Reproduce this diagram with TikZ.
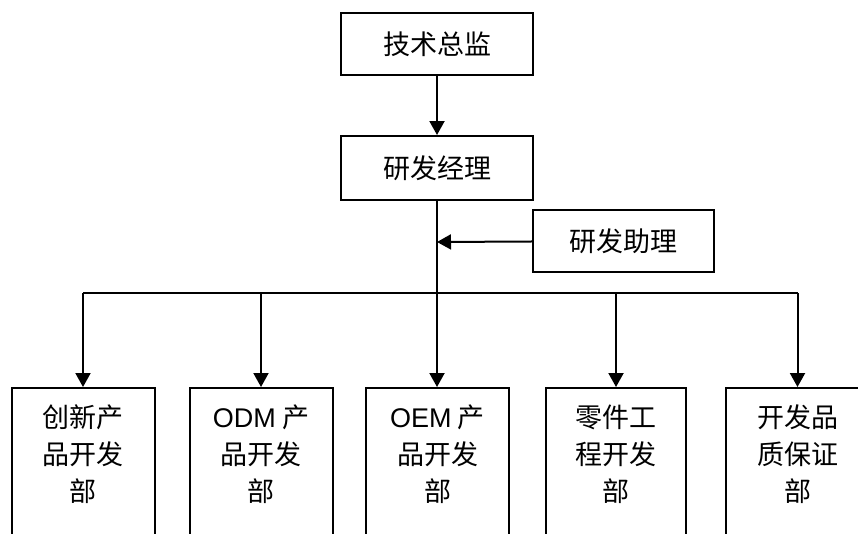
\documentclass[tikz,border=0pt]{standalone}
\usepackage{fontspec}
\setmainfont{Noto Sans CJK SC}
\newfontfamily\arialfont{Liberation Sans}
\usetikzlibrary{arrows.meta}

\begin{document}
\begin{tikzpicture}[
        x=1pt, y=-1pt,
        box/.style={draw, line width=2pt, minimum width=192pt, minimum height=62pt, font=\fontsize{27}{37}\selectfont},
        dept/.style={draw, line width=2pt, minimum width=143pt, minimum height=180pt, anchor=north},
        depttext/.style={align=center, inner sep=0pt, font=\fontsize{27}{37}\selectfont},
        arrow/.style={-{Triangle[length=14pt,width=15pt]}, line width=2pt},
        line/.style={line width=2pt}
    ]
    \useasboundingbox (0,0) rectangle (858,533);
    \clip (0,0) rectangle (858,533);

    \node[box] (cto) at (437,44) {技术总监};
    \node[box, minimum height=64pt] (mgr) at (437,168) {研发经理};
    \node[box, minimum width=181pt] (asst) at (623.5,241) {研发助理};

    \node[dept] (d1) at (83,387) {};
    \node[dept] (d2) at (261,387) {};
    \node[dept] (d3) at (437.5,387) {};
    \node[dept, minimum width=140pt] (d4) at (616,387) {};
    \node[dept] (d5) at (797.5,387) {};

    \node[depttext] (t1) at (83,454) {创新产\\品开发\\部};
    \node[depttext] (t2) at (261,454) {{\arialfont ODM} 产\\品开发\\部};
    \node[depttext] (t3) at (437.5,454) {{\arialfont OEM} 产\\品开发\\部};
    \node[depttext] (t4) at (616,454) {零件工\\程开发\\部};
    \node[depttext] (t5) at (797.5,454) {开发品\\质保证\\部};

    \coordinate (join) at (437,242);
    \coordinate (bus) at (437,293);

    \draw[arrow] (cto) -- (mgr);
    \draw[arrow] (mgr.south) -- (d3.north -| mgr.south);
    \draw[arrow] (asst) -- (join);
    \draw[line] (d1.north |- bus) -- (d5.north |- bus);
    \foreach \d in {d1,d2,d4,d5}
        \draw[arrow] (\d.north |- bus) -- (\d.north);

\end{tikzpicture}
\end{document}
